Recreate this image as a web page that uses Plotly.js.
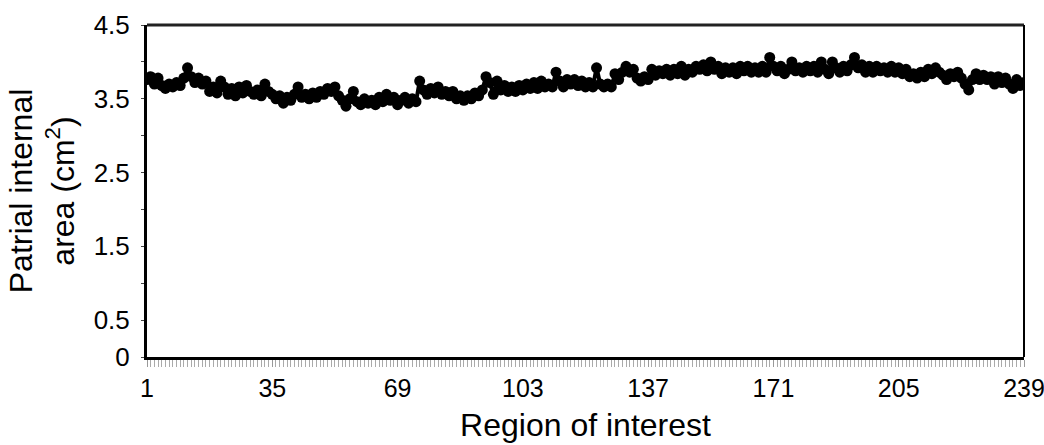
<!DOCTYPE html>
<html>
<head>
<meta charset="utf-8">
<script src="https://cdn.plot.ly/plotly-3.0.1.min.js"></script>
<style>
html,body{margin:0;padding:0;background:#fff;}
#chart{width:1044px;height:445px;}
</style>
</head>
<body>
<div id="chart"></div>
<script>
// Region of interest tick labels
const xTickVals = [1, 35, 69, 103, 137, 171, 205, 239];
const xTickText = ["1", "35", "69", "103", "137", "171", "205", "239"];
const yTickVals = [0, 0.5, 1.5, 2.5, 3.5, 4.5];
const yTickText = ["0", "0.5", "1.5", "2.5", "3.5", "4.5"];

// Patrial internal area (cm^2) for regions 1..239
const areaValues = [
  3.76, 3.80, 3.70, 3.78, 3.68, 3.64, 3.70, 3.66, 3.72, 3.68,
  3.78, 3.92, 3.80, 3.72, 3.78, 3.70, 3.74, 3.60, 3.66, 3.58,
  3.74, 3.66, 3.56, 3.64, 3.54, 3.66, 3.58, 3.68, 3.60, 3.56,
  3.62, 3.54, 3.70, 3.60, 3.56, 3.50, 3.54, 3.44, 3.52, 3.48,
  3.56, 3.66, 3.52, 3.56, 3.50, 3.58, 3.52, 3.60, 3.56, 3.64,
  3.60, 3.66, 3.54, 3.48, 3.40, 3.50, 3.60, 3.46, 3.42, 3.50,
  3.44, 3.48, 3.42, 3.52, 3.46, 3.56, 3.48, 3.52, 3.42, 3.48,
  3.52, 3.44, 3.50, 3.46, 3.74, 3.62, 3.56, 3.64, 3.58, 3.66,
  3.56, 3.60, 3.54, 3.60, 3.50, 3.54, 3.48, 3.54, 3.50, 3.58,
  3.54, 3.62, 3.80, 3.72, 3.56, 3.74, 3.62, 3.68, 3.60, 3.66,
  3.60, 3.68, 3.62, 3.70, 3.64, 3.72, 3.64, 3.74, 3.66, 3.70,
  3.66, 3.86, 3.74, 3.66, 3.76, 3.70, 3.76, 3.68, 3.74, 3.66,
  3.72, 3.66, 3.92, 3.70, 3.66, 3.70, 3.66, 3.84, 3.76, 3.86,
  3.94, 3.86, 3.90, 3.78, 3.74, 3.80, 3.76, 3.90, 3.82, 3.88,
  3.84, 3.90, 3.82, 3.90, 3.84, 3.94, 3.82, 3.90, 3.86, 3.94,
  3.90, 3.96, 3.88, 4.00, 3.90, 3.94, 3.84, 3.92, 3.86, 3.92,
  3.84, 3.94, 3.88, 3.94, 3.86, 3.92, 3.86, 3.94, 3.86, 4.06,
  3.94, 3.88, 3.94, 3.84, 3.90, 4.00, 3.88, 3.92, 3.86, 3.94,
  3.88, 3.94, 3.86, 4.00, 3.90, 3.84, 4.00, 3.92, 3.86, 3.94,
  3.88, 3.96, 4.06, 3.92, 3.96, 3.86, 3.94, 3.86, 3.94, 3.88,
  3.92, 3.86, 3.94, 3.86, 3.92, 3.84, 3.90, 3.80, 3.84, 3.78,
  3.86, 3.80, 3.90, 3.84, 3.92, 3.86, 3.82, 3.76, 3.84, 3.80,
  3.86, 3.78, 3.70, 3.62, 3.76, 3.84, 3.76, 3.82, 3.76, 3.80,
  3.70, 3.80, 3.72, 3.78, 3.70, 3.64, 3.76, 3.68, 3.72
];
const regions = areaValues.map((_, i) => i + 1);

const FONT = '"Liberation Sans", Arial, Helvetica, sans-serif';

const trace = {
  x: regions,
  y: areaValues,
  type: 'scatter',
  mode: 'lines+markers',
  line: {color: '#000', width: 4},
  marker: {color: '#000', size: 11, symbol: 'circle'},
  cliponaxis: true,
  hoverinfo: 'x+y'
};

const layout = {
  width: 1044,
  height: 445,
  margin: {l: 147, r: 20, t: 25, b: 88},
  paper_bgcolor: '#fff',
  plot_bgcolor: '#fff',
  showlegend: false,
  font: {family: FONT, color: '#000', size: 25},
  xaxis: {
    range: [1, 239],
    tickmode: 'array',
    tickvals: xTickVals,
    ticktext: xTickText,
    ticks: 'outside',
    ticklen: 7,
    tickwidth: 1,
    tickcolor: '#999',
    ticklabeloverflow: 'allow',
    minor: {dtick: 1, tick0: 1, ticks: 'outside', ticklen: 7, tickwidth: 1, tickcolor: '#aaa', showgrid: false},
    showline: true,
    linecolor: '#000',
    linewidth: 3,
    showgrid: false,
    zeroline: false,
    automargin: false,
    tickfont: {family: FONT, size: 25, color: '#000'},
    title: {text: 'Region of interest', font: {family: FONT, size: 32, color: '#000'}, standoff: 13}
  },
  yaxis: {
    range: [0, 4.5],
    tickmode: 'array',
    tickvals: yTickVals,
    ticktext: yTickText,
    ticks: 'outside',
    ticklen: 3,
    tickwidth: 1,
    tickcolor: '#444',
    ticklabelstandoff: 6,
    ticklabeloverflow: 'allow',
    minor: {dtick: 0.5, tick0: 0, ticks: 'outside', ticklen: 3, tickwidth: 1, tickcolor: '#444', showgrid: false},
    showline: true,
    linecolor: '#000',
    linewidth: 3,
    showgrid: false,
    zeroline: false,
    automargin: false,
    tickfont: {family: FONT, size: 26, color: '#000'},
    title: {text: 'Patrial internal<br>area (cm<sup>2</sup>)', font: {family: FONT, size: 32, color: '#000'}, standoff: 10}
  },
  shapes: [
    {type: 'line', xref: 'paper', yref: 'paper', x0: 0, x1: 1, y0: 1, y1: 1,
     line: {color: '#222', width: 3}},
    {type: 'line', xref: 'paper', yref: 'paper', x0: 1, x1: 1, y0: 0, y1: 1,
     line: {color: '#000', width: 2}}
  ]
};

Plotly.newPlot('chart', [trace], layout, {displayModeBar: false, staticPlot: true});
</script>
</body>
</html>
